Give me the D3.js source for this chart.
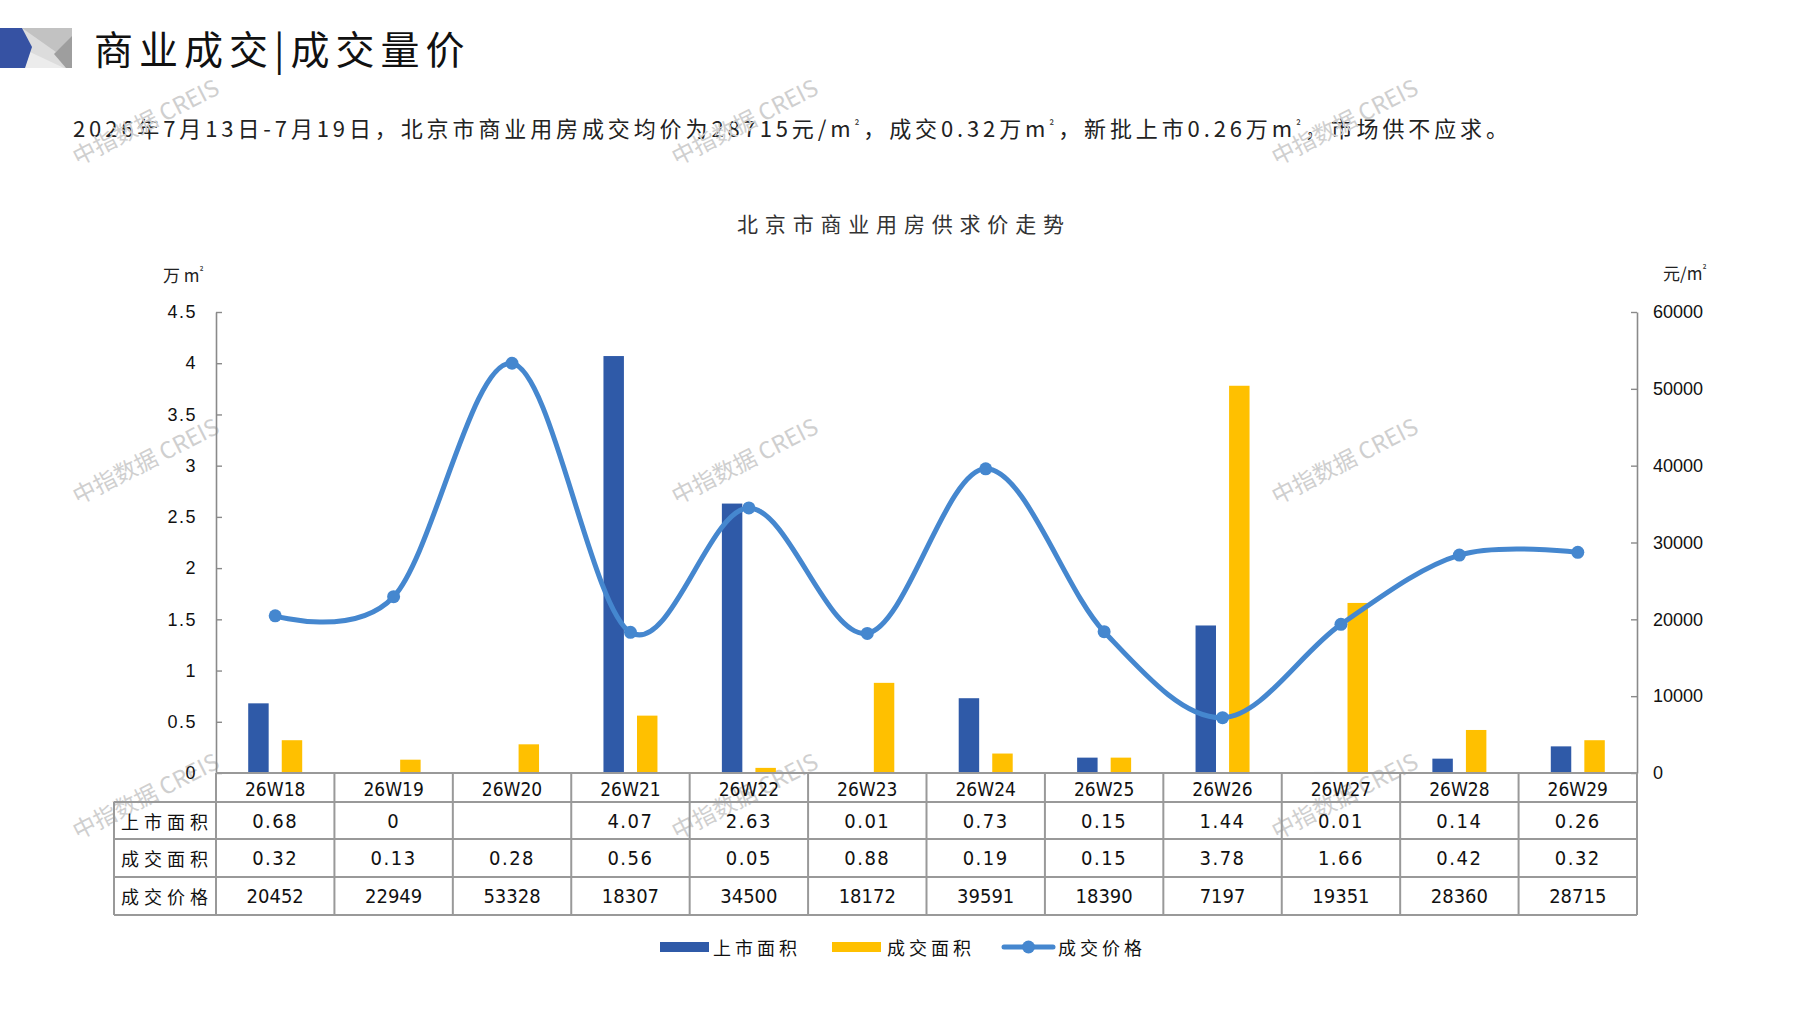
<!DOCTYPE html>
<html><head><meta charset="utf-8">
<script src="https://cdn.jsdelivr.net/npm/d3@7/dist/d3.min.js"></script>
<style>
html,body{margin:0;padding:0;background:#fff;}
svg{display:block;}
</style></head>
<body>
<script>
// ---- data ----
const categories = ["26W18","26W19","26W20","26W21","26W22","26W23","26W24","26W25","26W26","26W27","26W28","26W29"];
const listedArea = [0.68, 0, null, 4.07, 2.63, 0.01, 0.73, 0.15, 1.44, 0.01, 0.14, 0.26];
const soldArea   = [0.32, 0.13, 0.28, 0.56, 0.05, 0.88, 0.19, 0.15, 3.78, 1.66, 0.42, 0.32];
const soldPrice  = [20452, 22949, 53328, 18307, 34500, 18172, 39591, 18390, 7197, 19351, 28360, 28715];
const leftTicks  = [0, 0.5, 1, 1.5, 2, 2.5, 3, 3.5, 4, 4.5];
const rightTicks = [0, 10000, 20000, 30000, 40000, 50000, 60000];
const seriesNames = ["上市面积", "成交面积", "成交价格"];
const rowLabels = ["上市面积", "成交面积", "成交价格"];

const W = 1797, H = 1010;
const CJK = "'Noto Sans CJK SC','Noto Sans',sans-serif";
const NUM = "'DejaVu Sans Condensed','Liberation Sans Narrow','Liberation Sans',sans-serif";
const BLUE = "#2f5aa8", YELLOW = "#ffc000", LINE = "#4587cf", GRID = "#999";

const svg = d3.select("body").append("svg").attr("width", W).attr("height", H);
svg.append("rect").attr("width", W).attr("height", H).attr("fill", "#fff");

// text with small superscript ²
function supText(sel, str, supSize) {
  const parts = str.split("²");
  let shift = 0;
  parts.forEach((p, i) => {
    if (p) {
      const t = sel.append("tspan").text(p);
      if (shift) { t.attr("dy", shift); shift = 0; }
    }
    if (i < parts.length - 1) {
      sel.append("tspan").attr("font-size", supSize).attr("dy", -7).text("²");
      shift = 7;
    }
  });
  return sel;
}

// ---- header logo ----
const logo = svg.append("g");
logo.append("rect").attr("x",0).attr("y",28).attr("width",72).attr("height",40).attr("fill","#dcdcdc");
logo.append("polygon").attr("points","22,28 72,28 72,38 56,52").attr("fill","#c2c2c2");
logo.append("polygon").attr("points","72,36 72,68 66,68 54,54").attr("fill","#9e9e9e");
logo.append("polygon").attr("points","30,52 25,68 64,68").attr("fill","#ececec");
logo.append("polygon").attr("points","0,28 22,28 32,47 25,68 0,68").attr("fill","#3652a3");

svg.append("text").attr("x",94).attr("y",64)
  .attr("font-family",CJK).attr("font-size",39).attr("letter-spacing",6).attr("fill","#111")
  .text("商业成交|成交量价");

supText(svg.append("text").attr("x",73).attr("y",137)
  .attr("font-family",CJK).attr("font-size",22).attr("fill","#222")
  .attr("textLength",1435).attr("lengthAdjust","spacing"),
  "2026年7月13日-7月19日，北京市商业用房成交均价为28715元/m²，成交0.32万m²，新批上市0.26万m²，市场供不应求。", 12);

svg.append("text").attr("x",737).attr("y",232)
  .attr("font-family",CJK).attr("font-size",21).attr("fill","#333")
  .attr("textLength",327).attr("lengthAdjust","spacing")
  .text("北京市商业用房供求价走势");

// ---- scales ----
const x0 = 216, x1 = 1637, yTop = 312, yBase = 773;
const x = d3.scaleBand().domain(categories).range([x0, x1]).padding(0);
const bw = x.bandwidth();
const xs = d3.scaleBand().domain(["listed","sold"]).range([bw/2-27, bw/2+27]).paddingInner(0.39).paddingOuter(0);
const yL = d3.scaleLinear().domain([0, 4.5]).range([yBase, yTop]);
const yR = d3.scaleLinear().domain([0, 60000]).range([yBase, yTop]);

// unit labels
supText(svg.append("text").attr("x",163).attr("y",282).attr("font-family",CJK).attr("font-size",17).attr("fill","#222"), "万 m²", 10);
supText(svg.append("text").attr("x",1663).attr("y",280).attr("font-family",CJK).attr("font-size",17).attr("fill","#222"), "元/m²", 10);

// ---- watermarks ----
const wmX = [78, 677, 1277], wmY = [166, 505, 840];
wmY.forEach(yy => wmX.forEach(xx => {
  svg.append("text").attr("transform",`translate(${xx},${yy}) rotate(-27)`)
    .attr("font-family",CJK).attr("font-size",23).attr("fill","#cfcfcf")
    .text("中指数据 CREIS");
}));

// ---- axes ----
const fmtL = d => (+d.toFixed(1)).toString();
const gL = svg.append("g").attr("transform",`translate(${x0},0)`)
  .call(d3.axisLeft(yL).tickValues(leftTicks).tickFormat(fmtL).tickSizeInner(-6).tickSizeOuter(0).tickPadding(19));
const gR = svg.append("g").attr("transform",`translate(${x1},0)`)
  .call(d3.axisRight(yR).tickValues(rightTicks).tickFormat(d3.format("d")).tickSizeInner(-6).tickSizeOuter(0).tickPadding(16));
[gL, gR].forEach(g => {
  g.select(".domain").attr("stroke","#8a8a8a").attr("stroke-width",1.6);
  g.selectAll(".tick line").attr("stroke","#8a8a8a").attr("stroke-width",1.4);
  g.selectAll(".tick text").attr("font-family","'Liberation Sans',Arial,sans-serif").attr("font-size",18).attr("fill","#111");
});
gL.selectAll(".tick text").attr("letter-spacing", 1.5);

// ---- bars ----
const barG = svg.append("g");
categories.forEach((c, i) => {
  if (listedArea[i] != null && listedArea[i] > 0) {
    barG.append("rect").attr("x", x(c) + xs("listed")).attr("width", xs.bandwidth())
      .attr("y", yL(listedArea[i])).attr("height", yBase - yL(listedArea[i])).attr("fill", BLUE);
  }
  if (soldArea[i] != null && soldArea[i] > 0) {
    barG.append("rect").attr("x", x(c) + xs("sold")).attr("width", xs.bandwidth())
      .attr("y", yL(soldArea[i])).attr("height", yBase - yL(soldArea[i])).attr("fill", YELLOW);
  }
});

// ---- price line ----
const line = d3.line().x((d,i) => x(categories[i]) + bw/2).y(d => yR(d)).curve(d3.curveCardinal.tension(0));
svg.append("path").datum(soldPrice).attr("d", line).attr("fill","none")
  .attr("stroke", LINE).attr("stroke-width", 5).attr("stroke-linecap","round");
svg.selectAll("circle.pt").data(soldPrice).enter().append("circle").attr("class","pt")
  .attr("cx",(d,i) => x(categories[i]) + bw/2).attr("cy", d => yR(d)).attr("r", 6.5).attr("fill", LINE);

// ---- data table ----
const rowY = [773, 802, 839, 877, 915];
const tL = 114;
const tg = svg.append("g").attr("stroke", GRID).attr("stroke-width", 2);
tg.append("line").attr("x1",x0).attr("x2",x1).attr("y1",rowY[0]).attr("y2",rowY[0]);
for (let r = 1; r < rowY.length; r++) tg.append("line").attr("x1",tL).attr("x2",x1).attr("y1",rowY[r]).attr("y2",rowY[r]);
tg.append("line").attr("x1",tL).attr("x2",tL).attr("y1",rowY[1]).attr("y2",rowY[4]);
categories.forEach(c => tg.append("line").attr("x1",x(c)).attr("x2",x(c)).attr("y1",rowY[0]).attr("y2",rowY[4]));
tg.append("line").attr("x1",x1).attr("x2",x1).attr("y1",rowY[0]).attr("y2",rowY[4]);

const cellText = (tx, ty, s, fam, size, ls) => svg.append("text").attr("x",tx).attr("y",ty)
  .attr("text-anchor","middle").attr("dominant-baseline","central")
  .attr("font-family",fam).attr("font-size",size).attr("letter-spacing",ls||0).attr("fill","#111").text(s);

categories.forEach(c => cellText(x(c)+bw/2, (rowY[0]+rowY[1])/2+1, c, NUM, 19));
const rows = [listedArea, soldArea, soldPrice];
rows.forEach((arr, r) => {
  const cy = (rowY[r+1]+rowY[r+2])/2;
  cellText(167, cy, rowLabels[r], CJK, 18, 5);
  arr.forEach((v, i) => {
    if (v == null) return;
    const s = r < 2 ? (v === 0 ? "0" : v.toFixed(2)) : String(v);
    cellText(x(categories[i])+bw/2, cy, s, NUM, 20, r < 2 ? 1.5 : 0);
  });
});

// ---- legend ----
const lg = svg.append("g");
const ly = 947;
lg.append("rect").attr("x",660).attr("y",ly-5).attr("width",49).attr("height",10).attr("fill",BLUE);
lg.append("rect").attr("x",832).attr("y",ly-5).attr("width",49).attr("height",10).attr("fill",YELLOW);
lg.append("line").attr("x1",1004).attr("x2",1053).attr("y1",ly).attr("y2",ly).attr("stroke",LINE).attr("stroke-width",5).attr("stroke-linecap","round");
lg.append("circle").attr("cx",1028.5).attr("cy",ly).attr("r",6.5).attr("fill",LINE);
[[713, seriesNames[0]],[887, seriesNames[1]],[1058, seriesNames[2]]].forEach(([lx, t]) => {
  lg.append("text").attr("x",lx).attr("y",ly).attr("dominant-baseline","central")
    .attr("font-family",CJK).attr("font-size",18).attr("letter-spacing",4).attr("fill","#111").text(t);
});
</script>
</body></html>
